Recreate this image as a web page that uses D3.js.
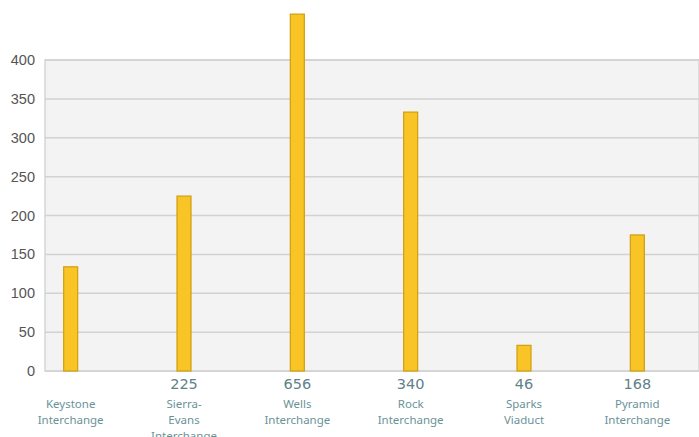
<!DOCTYPE html>
<html><head><meta charset="utf-8">
<script src="https://cdn.jsdelivr.net/npm/d3@7"></script>
<style>body{margin:0;background:#fff}svg{display:block}</style>
</head><body><svg id="c" width="699" height="437"></svg>
<script>
const categories = [["Keystone","Interchange"],["Sierra-","Evans","Interchange"],["Wells","Interchange"],["Rock","Interchange"],["Sparks","Viaduct"],["Pyramid","Interchange"]];
const values = [134, 225, 459, 333, 33, 175];
const valueLabels = ["", "225", "656", "340", "46", "168"];
const yTicks = [0, 50, 100, 150, 200, 250, 300, 350, 400];

(function () {
const svg = d3.select("#c");
const mLeft = 45, mRight = 699, mTop = 60, mBottom = 371;
const y = d3.scaleLinear().domain([0, 400]).range([mBottom, mTop]);
const x = d3.scalePoint().domain(d3.range(categories.length)).range([14, 694]).padding(0.5);

svg.append("rect").attr("x", mLeft).attr("y", mTop).attr("width", mRight - mLeft).attr("height", mBottom - mTop)
  .attr("fill", "#f3f3f3").attr("stroke", "#d6d6d6").attr("stroke-width", 1.5);

svg.append("g").selectAll("line").data(yTicks).join("line")
  .attr("x1", mLeft).attr("x2", mRight).attr("y1", d => y(d)).attr("y2", d => y(d))
  .attr("stroke", "#d2d2d2").attr("stroke-width", 1.5);

svg.append("g").selectAll("text").data(yTicks).join("text")
  .attr("x", 35).attr("y", d => y(d) + 5).attr("text-anchor", "end")
  .attr("font-family", "Liberation Sans, Arial, sans-serif").attr("font-size", 14.5)
  .attr("fill", "#555").text(d => d);

const bw = 14;
svg.append("g").selectAll("rect").data(values).join("rect")
  .attr("x", (d, i) => x(i) - bw / 2).attr("y", d => y(d))
  .attr("width", bw).attr("height", d => y(0) - y(d))
  .attr("fill", "#f9c425").attr("stroke", "#cf9f10").attr("stroke-width", 1.2);

svg.append("g").selectAll("text").data(valueLabels).join("text")
  .attr("x", (d, i) => x(i)).attr("y", 389).attr("text-anchor", "middle")
  .attr("font-family", "DejaVu Sans, sans-serif").attr("font-size", 14.5)
  .attr("fill", "#5e8288").text(d => d);

const cat = svg.append("g").selectAll("text").data(categories).join("text")
  .attr("x", (d, i) => x(i)).attr("y", 408).attr("text-anchor", "middle")
  .attr("font-family", "Noto Sans, sans-serif").attr("font-size", 11.5)
  .attr("fill", "#6a9398");
cat.selectAll("tspan").data((d, i) => d.map(t => ({t, i}))).join("tspan")
  .attr("x", d => x(d.i)).attr("dy", (d, j) => j === 0 ? 0 : 16).text(d => d.t);
})();
</script></body></html>
